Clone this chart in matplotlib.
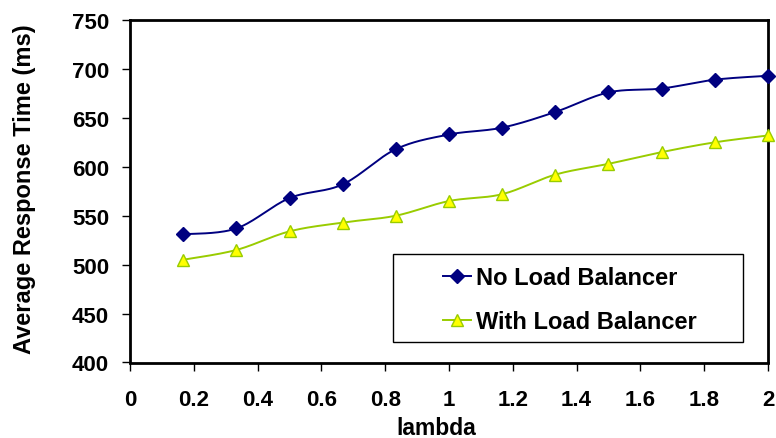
import numpy as np
import matplotlib
matplotlib.use("Agg")
import matplotlib.pyplot as plt
from matplotlib.patches import Rectangle
from matplotlib.lines import Line2D

plt.rcParams['font.family'] = ['Liberation Sans', 'DejaVu Sans']
plt.rcParams['font.weight'] = 'bold'

# Arrival rate (lambda) and measured average response times
lam = [1/6, 2/6, 3/6, 4/6, 5/6, 1.0, 7/6, 8/6, 9/6, 10/6, 11/6, 2.0]
no_lb = [531, 537, 568, 582, 618, 633, 640, 656, 676, 680, 689, 693]
with_lb = [505, 515, 534, 543, 550, 565, 572, 592, 603, 615, 625, 632]

x_ticks = [0, 0.2, 0.4, 0.6, 0.8, 1, 1.2, 1.4, 1.6, 1.8, 2]
x_tick_labels = ["0", "0.2", "0.4", "0.6", "0.8", "1", "1.2", "1.4", "1.6", "1.8", "2"]
y_ticks = [400, 450, 500, 550, 600, 650, 700, 750]


def smooth(xs, ys, n=30):
    """Piecewise cubic Bezier through the points (Catmull-Rom style tangents)."""
    xs = np.asarray(xs, float)
    ys = np.asarray(ys, float)
    px = np.concatenate([[xs[0]], xs, [xs[-1]]])
    py = np.concatenate([[ys[0]], ys, [ys[-1]]])
    out_x, out_y = [], []
    t = np.linspace(0, 1, n)
    for i in range(1, len(px) - 2):
        p0 = np.array([px[i], py[i]])
        p3 = np.array([px[i + 1], py[i + 1]])
        c1 = p0 + (np.array([px[i + 1], py[i + 1]]) - np.array([px[i - 1], py[i - 1]])) / 6
        c2 = p3 - (np.array([px[i + 2], py[i + 2]]) - np.array([px[i], py[i]])) / 6
        b = ((1 - t) ** 3)[:, None] * p0 + (3 * (1 - t) ** 2 * t)[:, None] * c1 \
            + (3 * (1 - t) * t ** 2)[:, None] * c2 + (t ** 3)[:, None] * p3
        out_x.extend(b[:, 0])
        out_y.extend(b[:, 1])
    return out_x, out_y


fig = plt.figure(figsize=(7.76, 4.39), dpi=100)
ax = fig.add_axes([130 / 776, (439 - 363.5) / 439, 638 / 776, 342.5 / 439])

navy = "#000080"
green = "#99CC00"
yellow = "#FFFF00"

sx, sy = smooth(lam, no_lb)
ax.plot(sx, sy, color=navy, lw=1.4, zorder=3, clip_on=False)
ax.plot(lam, no_lb, linestyle="none", marker="D", ms=7, color=navy,
        markeredgecolor=navy, zorder=4, clip_on=False)

sx, sy = smooth(lam, with_lb)
ax.plot(sx, sy, color=green, lw=1.4, zorder=3, clip_on=False)
ax.plot(lam, with_lb, linestyle="none", marker="^", ms=9, color=yellow,
        markeredgecolor=green, markeredgewidth=1.0, zorder=4, clip_on=False)

ax.set_xlim(0, 2)
ax.set_ylim(400, 750)
ax.set_xticks(x_ticks)
ax.set_xticklabels(x_tick_labels)
ax.set_yticks(y_ticks)

for sp in ax.spines.values():
    sp.set_linewidth(2.0)
    sp.set_color("black")

ax.tick_params(axis="both", direction="out", length=6, width=1.0, color="black")
ax.tick_params(axis="x", pad=13, labelsize=16)
ax.tick_params(axis="y", pad=9, labelsize=16)
for lbl in ax.get_xticklabels() + ax.get_yticklabels():
    lbl.set_fontweight("bold")

ax.set_xlabel("lambda", fontsize=16.5, fontweight="bold")
ax.xaxis.set_label_coords(0.48, -0.155)
ax.set_ylabel("Average Response Time (ms)", fontsize=17, fontweight="bold")
ax.yaxis.set_label_coords(-0.147, 0.51)

# Legend box
x0 = (393 - 130) / 638
y0 = (363.5 - 343) / 342.5
w = (743 - 393) / 638
h = (343 - 255) / 342.5
ax.add_patch(Rectangle((x0, y0), w, h, transform=ax.transAxes, fill=True,
                       facecolor="white", edgecolor="black", lw=1.0, zorder=5))

handles = [
    Line2D([], [], color=navy, lw=1.4, marker="D", ms=7, markeredgecolor=navy),
    Line2D([], [], color=green, lw=1.4, marker="^", ms=9, markerfacecolor=yellow,
           markeredgecolor=green),
]
leg = ax.legend(handles, ["No Load Balancer", "With Load Balancer"],
                loc="upper left", bbox_to_anchor=((431 - 130) / 638, (363.5 - 255) / 342.5),
                frameon=False, borderpad=0, handlelength=1.2, handletextpad=0.2,
                labelspacing=0.9, prop={"size": 17, "weight": "bold"})
leg.set_zorder(6)

fig.savefig("out.png", dpi=100)
